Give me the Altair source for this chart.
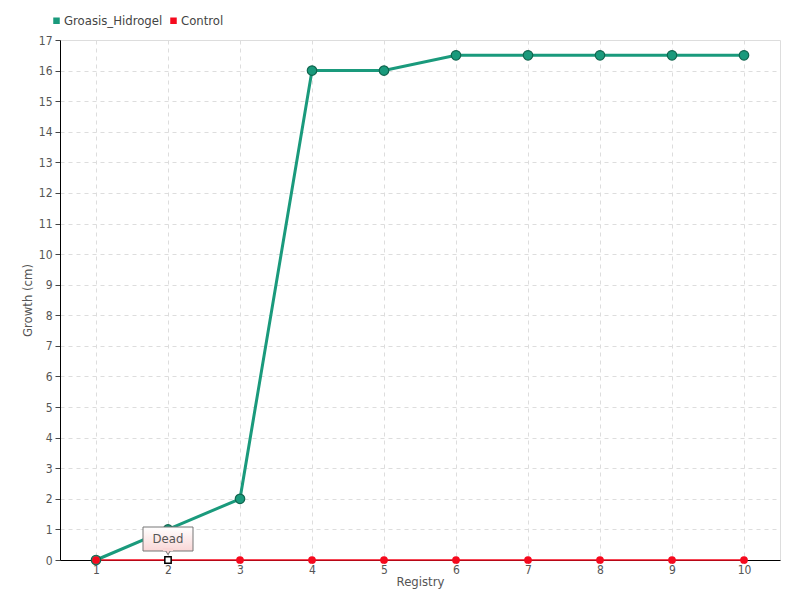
import altair as alt
import pandas as pd

registry = [1, 2, 3, 4, 5, 6, 7, 8, 9, 10]
groasis = [0, 1, 2, 16, 16, 16.5, 16.5, 16.5, 16.5, 16.5]
control = [0, 0, 0, 0, 0, 0, 0, 0, 0, 0]
series_names = ["Groasis_Hidrogel", "Control"]
series_colors = ["#1a9a7c", "#f50a1e"]
y_ticks = list(range(0, 18))
anno_x = [2]
anno_y = [0]
anno_label = ["Dead"]

rows = []
for name, vals in zip(series_names, [groasis, control]):
    for r, v in zip(registry, vals):
        rows.append({"Registry": r, "Growth": v, "Series": name})
df = pd.DataFrame(rows)
anno = pd.DataFrame({"Registry": anno_x, "Growth": anno_y, "label": anno_label})

FONT = "'DejaVu Sans Condensed', 'Roboto', sans-serif"

xs = alt.Scale(domain=[0.5, 10.5], nice=False, zero=False)
ys = alt.Scale(domain=[0, 17], nice=False)
cscale = alt.Scale(domain=series_names, range=series_colors)
color = alt.Color("Series:N", scale=cscale, sort=series_names,
                  legend=alt.Legend(title=None, orient="none", direction="horizontal",
                                    legendX=-10, legendY=-26, symbolType="square", symbolSize=25,
                                    labelFont=FONT, labelFontSize=13, labelColor="#444",
                                    columnPadding=4, symbolOffset=0, labelOffset=1))

x_axis = alt.Axis(values=registry, format="d", grid=True, gridDash=[4, 4], gridColor="#dddddd",
                  domainColor="#000", tickColor="#444", tickSize=3, labelOverlap=False,
                  labelFont=FONT, labelFontSize=12, labelColor="#555", labelPadding=1,
                  titleFont=FONT, titleFontSize=13, titleFontWeight="normal", titleColor="#555",
                  titlePadding=0)
y_axis = alt.Axis(values=y_ticks, format="d", grid=True, gridDash=[4, 4], gridColor="#dddddd",
                  domainColor="#000", tickColor="#444", tickSize=5, labelOverlap=False,
                  labelFont=FONT, labelFontSize=12, labelColor="#555", labelPadding=3,
                  titleFont=FONT, titleFontSize=13, titleFontWeight="normal", titleColor="#555",
                  titlePadding=4)

def X():
    return alt.X("Registry:Q", scale=xs, title="Registry", axis=x_axis)

def Y():
    return alt.Y("Growth:Q", scale=ys, title="Growth (cm)", axis=y_axis)

green = df[df.Series == "Groasis_Hidrogel"]
red = df[df.Series == "Control"]

green_line = alt.Chart(green).mark_line(strokeWidth=3).encode(x=X(), y=Y(), color=color)
red_line = alt.Chart(red).mark_line(strokeWidth=1.5).encode(x=X(), y=Y(), color=color)
red_pts = alt.Chart(red).mark_circle(size=60, opacity=1).encode(
    x=X(), y=Y(), color=alt.Color("Series:N", scale=cscale, legend=None))
green_pts = alt.Chart(green).mark_point(filled=True, size=90, opacity=1, stroke="#11664f", strokeWidth=1.2,
                                        fill="#1a9a7c").encode(x=X(), y=Y())
dead_pt = alt.Chart(anno).mark_square(size=40, fill="white", stroke="black", strokeWidth=1.5, opacity=1).encode(
    x=X(), y=Y())
box = alt.Chart(anno).mark_rect(width=50, height=24, yOffset=-21, stroke="#777", strokeWidth=1,
                               fill=alt.Gradient(gradient="linear", x1=0, x2=0, y1=0, y2=1,
                                                 stops=[alt.GradientStop(color="#ffffff", offset=0),
                                                        alt.GradientStop(color="#f9d6d6", offset=1)])).encode(
    x=X(), y=Y())
pointer = alt.Chart(anno).mark_point(shape="triangle-down", size=40, filled=True, fill="#f9d6d6", stroke="#777",
                                     strokeWidth=1, yOffset=-8, opacity=1).encode(x=X(), y=Y())
pointer_cover = alt.Chart(anno).mark_rect(width=10, height=3, yOffset=-10.5, fill="#f9d6d6").encode(
    x=X(), y=Y())
label = alt.Chart(anno).mark_text(font=FONT, fontSize=13, color="#555", dy=-21, baseline="middle").encode(
    x=X(), y=Y(), text="label:N")

chart = alt.layer(green_line, red_line, green_pts, red_pts, dead_pt, box, pointer, pointer_cover, label).properties(
    width=720, height=520,
    autosize=alt.AutoSizeParams(type="none"),
    padding={"left": 52, "top": 32, "right": 12, "bottom": 32},
).configure_view(stroke=None).configure(background="white")

chart.save("out.html", embed_options={"renderer": "svg", "actions": False})
